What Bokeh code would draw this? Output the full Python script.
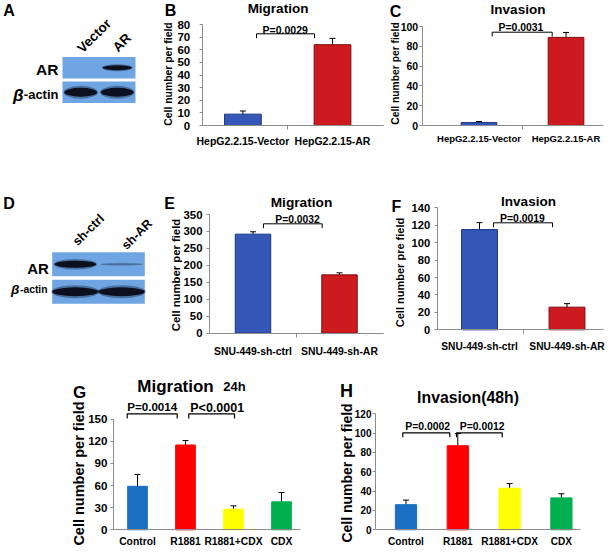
import math
from bokeh.plotting import figure
from bokeh.models import (Range1d, FixedTicker, Label, Whisker, ColumnDataSource, TeeHead,
                          LinearAxis)
from bokeh.embed import file_html
from bokeh.resources import INLINE

FONT = "Liberation Sans"
PAGE_W, PAGE_H = 613, 552
REF_W, REF_H = 613, 552
FS = (PAGE_W / REF_W + PAGE_H / REF_H) / 2

# ---------------- data ----------------
a_lanes = ["Vector", "AR"]
a_ar = [0.0, 1.0]
a_actin = [1.0, 1.0]

d_lanes = ["sh-ctrl", "sh-AR"]
d_ar = [1.0, 0.3]
d_actin = [1.0, 1.0]

b_cats = ["HepG2.2.15-Vector", "HepG2.2.15-AR"]
b_vals = [9, 64]
b_errs = [2.5, 5]

c_cats = ["HepG2.2.15-Vector", "HepG2.2.15-AR"]
c_vals = [3, 89]
c_errs = [1, 5]

e_cats = ["SNU-449-sh-ctrl", "SNU-449-sh-AR"]
e_vals = [292, 172]
e_errs = [7, 6]

f_cats = ["SNU-449-sh-ctrl", "SNU-449-sh-AR"]
f_vals = [115, 26]
f_errs = [8, 4]

g_cats = ["Control", "R1881", "R1881+CDX", "CDX"]
g_vals = [59, 115, 28, 38]
g_errs = [16, 6, 4.5, 12.5]

h_cats = ["Control", "R1881", "R1881+CDX", "CDX"]
h_vals = [26, 87, 43, 33]
h_errs = [4.7, 12.5, 4.8, 4.3]

# ---------------- styles ----------------
BLUE1, BLUE1_L = "#3557b7", "#1d3680"
RED1, RED1_L = "#cc1a1f", "#7e0d10"
G_FILLS = ["#1a6fc3", "#ff0000", "#ffff00", "#00b050"]
AXIS_COL = "#8c8c8c"
BLOT_BG = "#6ea5e2"
BAND = "#0b0f1e"

# one canvas; the default ranges are the page layout (y downwards),
# every panel gets its own named data ranges and its own axes
p = figure(width=PAGE_W, height=PAGE_H, x_range=Range1d(0, REF_W), y_range=Range1d(REF_H, 0),
           x_axis_location=None, y_axis_location=None, toolbar_location=None,
           output_backend="svg", title=None, min_border=0)
p.grid.visible = False
p.outline_line_color = None
p.background_fill_color = "white"
p.border_fill_color = "white"


def label(text, X, Y, size, align="center", angle=0.0, style="bold", baseline="middle"):
    p.add_layout(Label(x=X, y=Y, text=text, text_font=FONT,
                       text_font_size=f"{size * FS:.1f}px", text_font_style=style,
                       text_align=align, text_baseline=baseline, angle=angle,
                       text_color="black"))


def add_ranges(name, xmap, ymap):
    p.extra_x_ranges[name] = Range1d(xmap(0), xmap(REF_W))
    p.extra_y_ranges[name] = Range1d(ymap(REF_H), ymap(0))


def bracket(name, xmap, ymap, XL, XR, Yt, Yb, width=1.0):
    p.line(x=[xmap(XL), xmap(XL), xmap(XR), xmap(XR)], y=[ymap(Yb), ymap(Yt), ymap(Yt), ymap(Yb)],
           line_color="black", line_width=width, x_range_name=name, y_range_name=name)


def bar_panel(name, axis_x, axis_end, c0, cw, y0px, ytoppx, ymax, step,
              cats, vals, errs, fills, lines, bar_w, ytick_fs, ytick_gap,
              xtick_fs, xtick_gap, mid_tick, head=6):
    def xmap(X):
        return 0.5 + (X - c0) / cw

    def ymap(Y):
        return (y0px - Y) * ymax / (y0px - ytoppx)

    add_ranges(name, xmap, ymap)
    n = len(cats)
    pos = [i + 0.5 for i in range(n)]
    src = ColumnDataSource(dict(
        x=pos, top=vals, fill=fills, line=lines,
        upper=[v + e for v, e in zip(vals, errs)],
        lower=[v - e for v, e in zip(vals, errs)]))
    p.vbar(x="x", top="top", bottom=0, width=bar_w, fill_color="fill",
           line_color="line", line_width=1, source=src,
           x_range_name=name, y_range_name=name)
    p.add_layout(Whisker(source=src, base="x", upper="upper", lower="lower",
                         line_color="black", line_width=1,
                         upper_head=TeeHead(size=head, line_color="black", line_width=1),
                         lower_head=TeeHead(size=head, line_color="black", line_width=1),
                         x_range_name=name, y_range_name=name))

    xa = LinearAxis(x_range_name=name, y_range_name=name, fixed_location=0,
                    bounds=(xmap(axis_x), xmap(axis_end)))
    xa.ticker = FixedTicker(ticks=pos, minor_ticks=[i + 1.0 for i in range(n - 1)] if mid_tick else [])
    xa.major_label_overrides = {pv: c for pv, c in zip(pos, cats)}
    xa.major_tick_line_color = None
    xa.major_tick_out = 0
    xa.major_tick_in = 0
    xa.minor_tick_out = 4
    xa.minor_tick_in = 0
    xa.minor_tick_line_color = AXIS_COL
    xa.axis_line_color = AXIS_COL
    xa.major_label_standoff = int(round(xtick_gap))
    xa.major_label_text_font = FONT
    xa.major_label_text_font_style = "bold"
    xa.major_label_text_font_size = f"{xtick_fs * FS:.1f}px"
    xa.major_label_text_color = "black"
    p.add_layout(xa, "below")

    ya = LinearAxis(x_range_name=name, y_range_name=name, fixed_location=xmap(axis_x),
                    bounds=(0, ymax))
    ya.ticker = FixedTicker(ticks=list(range(0, ymax + 1, step)))
    ya.minor_tick_line_color = None
    ya.major_tick_out = 3
    ya.major_tick_in = 0
    ya.major_tick_line_color = AXIS_COL
    ya.axis_line_color = AXIS_COL
    ya.major_label_standoff = int(round(ytick_gap))
    ya.major_label_text_font = FONT
    ya.major_label_text_font_style = "bold"
    ya.major_label_text_font_size = f"{ytick_fs * FS:.1f}px"
    ya.major_label_text_color = "black"
    p.add_layout(ya, "left")
    return xmap, ymap


def blot_panel(name, box, lanes, ar, actin, ar_h, actin_h, ar_w, actin_w):
    n = len(lanes)

    def xmap(X):
        return (X - box[0]) * n / (box[2] - box[0])

    def ymap(Y):
        return (box[3] - Y) * 2 / (box[3] - box[1])

    add_ranges(name, xmap, ymap)
    kw = dict(x_range_name=name, y_range_name=name)
    p.hbar(y=[1.5, 0.5], left=0, right=n, height=0.88, fill_color=BLOT_BG, line_color=None, **kw)
    pos = [i + 0.5 for i in range(n)]
    for yv, inten, hh, ww in [(1.5, ar, ar_h, ar_w), (0.5, actin, actin_h, actin_w)]:
        p.ellipse(x=pos, y=[yv] * n, width=ww * 1.04,
                  height=[hh * 1.45 * k for k in inten],
                  fill_color=BAND, fill_alpha=[0.35 * k for k in inten], line_color=None, **kw)
        p.ellipse(x=pos, y=[yv] * n, width=ww,
                  height=[hh * k for k in inten],
                  fill_color=BAND, fill_alpha=[k for k in inten], line_color=None, **kw)


# ----- A -----
blot_panel("A", (62, 55, 135, 104), a_lanes, a_ar, a_actin, 0.2, 0.36, 0.8, 0.9)
label("A", 8.5, 10, 16)
label(a_lanes[0], 79, 50, 13.5, align="left", angle=math.pi / 4, baseline="alphabetic")
label(a_lanes[1], 114.5, 49, 13.5, align="left", angle=math.pi / 4, baseline="alphabetic")
label("AR", 58, 68.5, 15.5, align="right")
label("-actin", 58, 94, 13, align="right")
label("β", 23, 94.5, 17, align="right", style="bold italic")

# ----- B -----
xm, ym = bar_panel("B", 201.7, 383, 242.4, 89.6, 125, 24, 80, 10,
                   b_cats, b_vals, b_errs, [BLUE1, RED1], [BLUE1_L, RED1_L], 0.41,
                   11.5, 9, 10.5, 5, True)
label("B", 170, 10, 16)
label("Migration", 277.5, 7.5, 13.5)
label("P=0.0029", 284.7, 29, 10.5)
bracket("B", xm, ym, 256, 314, 33.3, 37.7)
label("Cell number per field", 167.5, 73.5, 10.4, angle=math.pi / 2)

# ----- C -----
xm, ym = bar_panel("C", 421.7, 603, 478.5, 87, 125, 26, 100, 20,
                   c_cats, c_vals, c_errs, [BLUE1, RED1], [BLUE1_L, RED1_L], 0.41,
                   10.5, 1, 9.5, 3, True)
label("C", 395, 11, 16)
label("Invasion", 517.5, 8.5, 13.5)
label("P=0.0031", 520.5, 26.5, 10.4)
bracket("C", xm, ym, 491.7, 551.7, 31.7, 36)
label("Cell number per field", 394.5, 73, 10.3, angle=math.pi / 2)

# ----- D -----
blot_panel("D", (51.7, 250, 144.3, 305), d_lanes, d_ar, d_actin, 0.26, 0.32, 0.9, 1.0)
label("D", 8.5, 203, 16)
label(d_lanes[0], 74.5, 243, 12.5, align="left", angle=math.pi / 4, baseline="alphabetic")
label(d_lanes[1], 123.5, 247, 12.5, align="left", angle=math.pi / 4, baseline="alphabetic")
label("AR", 48.3, 267.5, 15, align="right")
label("-actin", 47, 288.5, 10.3, align="right")
label("β", 19, 289, 13.5, align="right", style="bold italic")

# ----- E -----
xm, ym = bar_panel("E", 209, 383, 252.5, 86.5, 332.7, 214, 350, 50,
                   e_cats, e_vals, e_errs, [BLUE1, RED1], [BLUE1_L, RED1_L], 0.41,
                   11.4, 4, 10.4, 9, True)
label("E", 169, 203, 16)
label("Migration", 301, 201.5, 13.7)
label("P=0.0032", 297, 218.5, 10.3)
bracket("E", xm, ym, 263, 321.7, 223.3, 227.7)
label("Cell number per field", 175, 274.5, 11.3, angle=math.pi / 2)

# ----- F -----
xm, ym = bar_panel("F", 436.7, 603, 479, 87.5, 329.3, 207.3, 140, 20,
                   f_cats, f_vals, f_errs, [BLUE1, RED1], [BLUE1_L, RED1_L], 0.41,
                   11.2, 4, 10.2, 7, True)
label("F", 396, 206, 16)
label("Invasion", 528, 200.5, 13.5)
label("P=0.0019", 522, 218, 10.4)
bracket("F", xm, ym, 493, 552, 222.3, 226.7)
label("Cell number pre field", 399, 272, 11, angle=math.pi / 2)

# ----- G -----
xm, ym = bar_panel("G", 113, 300, 137, 48, 529.3, 418.7, 150, 30,
                   g_cats, g_vals, g_errs, G_FILLS, G_FILLS, 0.41,
                   11.6, 3, 10.3, 6, False)
label("G", 79, 392, 17)
label("Migration", 175, 385.5, 17)
label("24h", 234, 385.5, 13)
label("P=0.0014", 151.7, 405.8, 11.6)
label("P<0.0001", 216.7, 407.5, 12.5)
bracket("G", xm, ym, 126.7, 176.7, 413.3, 418, 1.2)
bracket("G", xm, ym, 188.3, 234, 413.3, 418, 1.2)
label("Cell number per field", 78, 473, 14.5, angle=math.pi / 2)

# ----- H -----
xm, ym = bar_panel("H", 375, 580, 405.5, 51.8, 529.3, 413.3, 120, 20,
                   h_cats, h_vals, h_errs, G_FILLS, G_FILLS, 0.41,
                   10, 1, 10.1, 6, False)
label("H", 346, 390, 18)
label("Invasion(48h)", 467.5, 397, 15.8)
label("P=0.0002", 427.2, 425.5, 10.4)
label("P=0.0012", 481.7, 425.5, 10.4)
bracket("H", xm, ym, 402.3, 449.3, 432.3, 436.7, 1.2)
bracket("H", xm, ym, 456, 501.7, 432.3, 436.7, 1.2)
label("Cell number per field", 346.7, 472.5, 14, angle=math.pi / 2)

open("out.html", "w").write(file_html(p, INLINE))
